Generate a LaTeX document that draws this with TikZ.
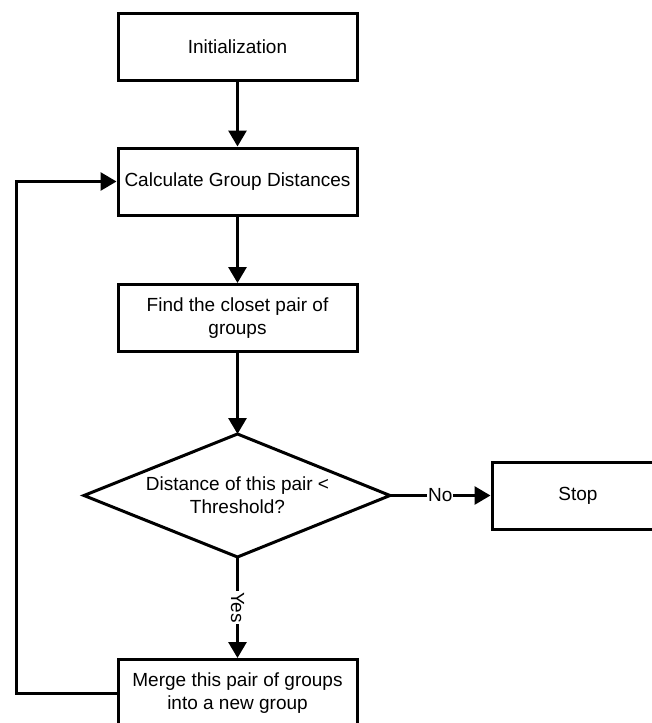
\documentclass[tikz,border=0pt]{standalone}
\usepackage{fontspec}
\setmainfont{Liberation Sans}
\usetikzlibrary{arrows.meta}
\begin{document}
\begin{tikzpicture}[x=1pt,y=-1pt,
  line width=3pt,
  txt/.style={font=\fontsize{19}{23.5}\selectfont, align=center},
  box/.style={txt, draw, line width=3pt, minimum width=239pt, minimum height=67pt, inner sep=0pt},
  flow/.style={-{Triangle[length=16pt,width=18pt]}, line width=3pt},
  lbl/.style={txt, fill=white, inner sep=1pt}
]
\useasboundingbox (0,0) rectangle (652,723);
\clip (0,0) rectangle (652,723);

% process boxes
\node[box] (init)  at (237.5,46.5) {Initialization};
\node[box] (calc)  at (237.5,181.5) {Calculate Group Distances};
\node[box] (find)  at (237.5,318) {Find the closet pair of\\groups};
\node[box] (merge) at (237.5,693) {Merge this pair of groups\\into a new group};
\node[box, minimum width=172pt] (stop) at (578,495.5) {Stop};

% decision diamond
\coordinate (dtop)   at (237.5,434);
\coordinate (dright) at (390,495.5);
\coordinate (dbot)   at (237.5,557);
\coordinate (dleft)  at (84,495.5);
\draw (dtop) -- (dright) -- (dbot) -- (dleft) -- cycle;
\node[txt] (dtext) at (237.5,495) {Distance of this pair <\\Threshold?};

% return path on the left
\coordinate (loopx) at (16,0);

% connectors
\draw[flow] (init) -- (calc);
\draw[flow] (calc) -- (find);
\draw[flow] (find) -- (dtop);
\draw[flow] (dright) -- node[lbl] {No} (stop);
\draw[flow] (dbot) -- node[lbl, rotate=-90] {Yes} (merge);
\draw[flow] (merge.west) -- (merge.west -| loopx) |- (calc.west);
\end{tikzpicture}
\end{document}
